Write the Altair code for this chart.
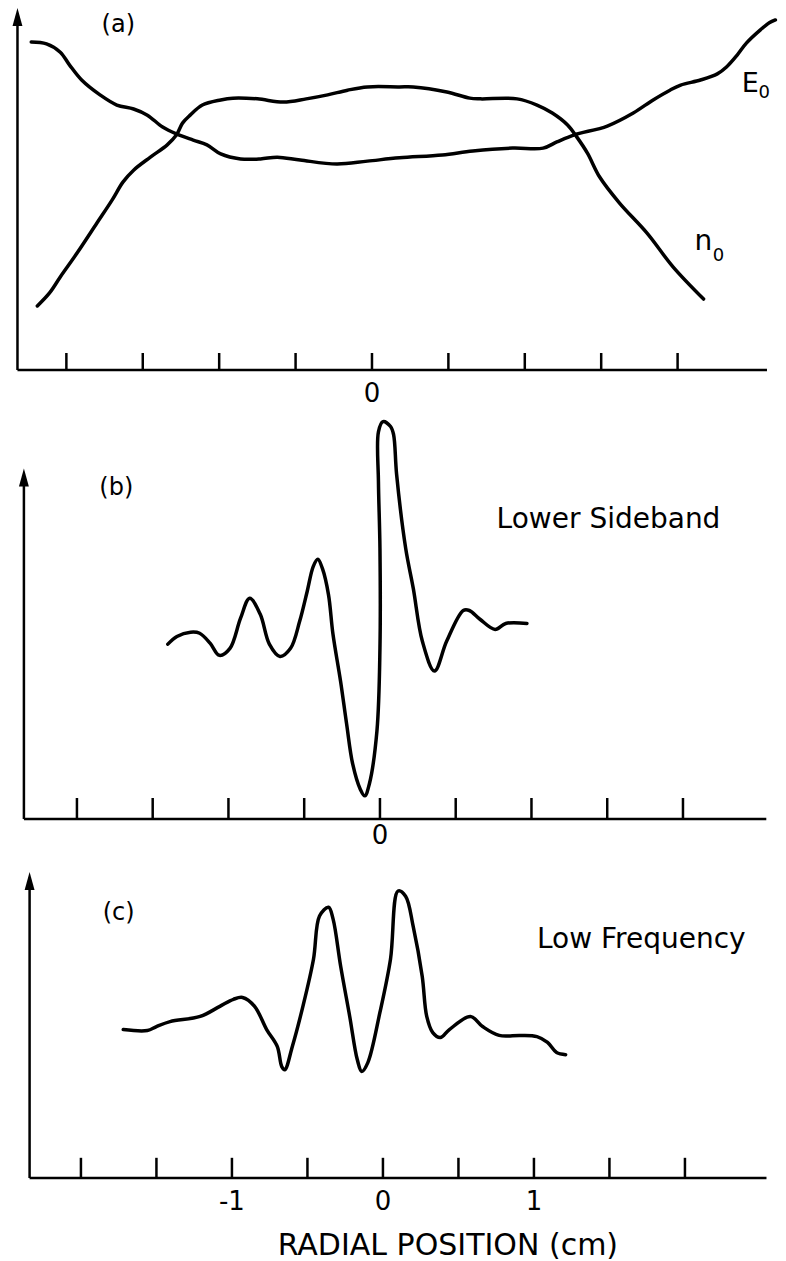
import altair as alt
import pandas as pd

# ---------------- data (x in cm, y in relative units) ----------------
# Panel (a): density n0 and field E0
A_N0_X = [-2.19, -2.11, -2.04, -1.93, -1.80, -1.70, -1.63, -1.56, -1.45, -1.34, -1.28, -1.24, -1.19,
          -1.11, -0.99, -0.91, -0.75, -0.58, -0.43, -0.29, -0.16, -0.03, 0.18, 0.27, 0.49, 0.64,
          0.71, 0.95, 1.08, 1.18, 1.28, 1.34, 1.41, 1.49, 1.62, 1.80, 1.97, 2.17]
A_N0_Y = [1.77, 2.13, 2.57, 3.23, 4.06, 4.70, 5.19, 5.52, 5.88, 6.22, 6.49, 6.82, 7.04,
          7.32, 7.46, 7.51, 7.49, 7.40, 7.49, 7.60, 7.73, 7.82, 7.82, 7.82, 7.68, 7.51,
          7.49, 7.49, 7.32, 7.10, 6.77, 6.44, 5.99, 5.33, 4.61, 3.78, 2.85, 1.96]
A_E0_X = [-2.23, -2.13, -2.04, -1.98, -1.90, -1.78, -1.67, -1.56, -1.47, -1.37, -1.28, -1.17, -1.08,
          -0.99, -0.86, -0.73, -0.62, -0.47, -0.23, -0.03, 0.18, 0.46, 0.66, 0.92, 1.12, 1.21,
          1.32, 1.54, 1.71, 1.84, 1.95, 2.02, 2.15, 2.26, 2.32, 2.39, 2.45, 2.54, 2.60, 2.64]
A_E0_Y = [9.06, 9.01, 8.78, 8.43, 8.01, 7.60, 7.32, 7.21, 7.04, 6.71, 6.52, 6.35, 6.22,
          5.97, 5.83, 5.83, 5.88, 5.80, 5.69, 5.77, 5.86, 5.94, 6.05, 6.13, 6.13, 6.30,
          6.49, 6.74, 7.10, 7.46, 7.73, 7.87, 8.01, 8.18, 8.37, 8.70, 9.03, 9.39, 9.59, 9.67]

# Panel (b): lower sideband
B_X = [-1.40, -1.34, -1.25, -1.19, -1.12, -1.06, -0.99, -0.92, -0.86, -0.79, -0.73, -0.66, -0.59,
       -0.53, -0.48, -0.44, -0.41, -0.38, -0.34, -0.31, -0.26, -0.22, -0.18, -0.13, -0.10, -0.07,
       -0.02, 0.00, 0.00, -0.01, -0.01, 0.02, 0.07, 0.09, 0.11, 0.17, 0.22, 0.28, 0.36, 0.44,
       0.55, 0.59, 0.66, 0.76, 0.83, 0.97]
B_Y = [4.99, 5.21, 5.33, 5.30, 5.01, 4.67, 4.87, 5.73, 6.30, 5.84, 4.99, 4.64, 4.87,
       5.64, 6.50, 7.21, 7.41, 7.15, 6.41, 5.27, 3.93, 2.71, 1.57, 0.85, 0.66, 1.00,
       2.51, 4.87, 7.72, 9.63, 11.05, 11.34, 11.20, 10.97, 9.83, 7.72, 6.58, 5.07, 4.22, 5.07,
       5.95, 5.95, 5.70, 5.41, 5.58, 5.58]

# Panel (c): low frequency
C_X = [-1.72, -1.56, -1.50, -1.41, -1.21, -1.08, -0.99, -0.93, -0.85, -0.77, -0.70, -0.67, -0.65,
       -0.60, -0.53, -0.46, -0.42, -0.36, -0.33, -0.28, -0.22, -0.17, -0.14, -0.10, -0.02, 0.05,
       0.10, 0.15, 0.20, 0.26, 0.29, 0.33, 0.38, 0.44, 0.58, 0.66, 0.77, 0.91, 1.02, 1.09,
       1.15, 1.21]
C_Y = [4.85, 4.82, 4.95, 5.11, 5.28, 5.61, 5.84, 5.90, 5.61, 4.85, 4.30, 3.64, 3.54,
       4.30, 5.61, 7.15, 8.56, 8.85, 8.46, 6.92, 5.28, 3.87, 3.48, 3.77, 5.41, 7.15,
       9.38, 9.21, 8.23, 6.59, 5.28, 4.75, 4.59, 4.85, 5.28, 4.95, 4.66, 4.66, 4.62, 4.43,
       4.10, 4.03]

TICKS = [-2.0, -1.5, -1.0, -0.5, 0.0, 0.5, 1.0, 1.5, 2.0]
LABELS_A = [0]
LABELS_B = [0]
LABELS_C = [-1, 0, 1]

FONT = "DejaVu Sans"
W = 768
ARROW = "M0,0L0.55,2L-0.55,2Z"


def series_df(xs, ys, name):
    return pd.DataFrame({"x": xs, "y": ys, "series": name, "order": list(range(len(xs)))})


def one():
    return pd.DataFrame({"k": [0]})


def panel(df, xdom, ydom, height, ax_x, x_end, tick_h, arrow_y, label_vals, label_dy, texts):
    xs = alt.Scale(domain=xdom, nice=False, zero=False)
    ys = alt.Scale(domain=ydom, nice=False, zero=False)
    lines = alt.Chart(df).mark_line(
        color="black", strokeWidth=3.5, strokeJoin="round", strokeCap="round",
        interpolate="catmull-rom"
    ).encode(
        x=alt.X("x:Q", scale=xs, axis=None),
        y=alt.Y("y:Q", scale=ys, axis=None),
        detail="series:N",
        order="order:Q",
    )
    ticks = alt.Chart(pd.DataFrame({"t": TICKS})).mark_rule(color="black", strokeWidth=2.5).encode(
        x=alt.X("t:Q", scale=xs, axis=None),
        y=alt.YDatum(0, scale=ys, axis=None),
        y2=alt.Y2Datum(tick_h),
    )
    lab_df = pd.DataFrame({"v": label_vals, "lab": [str(v) for v in label_vals]})
    labels = alt.Chart(lab_df).mark_text(
        font=FONT, fontSize=26, baseline="top", align="center", dy=label_dy, color="black"
    ).encode(
        x=alt.X("v:Q", scale=xs, axis=None),
        y=alt.YDatum(0, scale=ys, axis=None),
        text="lab:N",
    )
    xline = alt.Chart(one()).mark_rule(color="black", strokeWidth=2.5).encode(
        x=alt.XDatum(ax_x, scale=xs, axis=None),
        x2=alt.X2Datum(x_end),
        y=alt.YDatum(0, scale=ys, axis=None),
    )
    yline = alt.Chart(one()).mark_rule(color="black", strokeWidth=2.5).encode(
        x=alt.XDatum(ax_x, scale=xs, axis=None),
        y=alt.YDatum(0, scale=ys, axis=None),
        y2=alt.Y2Datum(arrow_y - 0.3),
    )
    arrow = alt.Chart(one()).mark_point(
        shape=ARROW, filled=True, size=324, color="black", opacity=1, strokeWidth=0
    ).encode(
        x=alt.XDatum(ax_x, scale=xs, axis=None),
        y=alt.YDatum(arrow_y, scale=ys, axis=None),
    )
    layers = [lines, ticks, labels, xline, yline, arrow]
    for (txt, tx, ty, size, align, base) in texts:
        layers.append(
            alt.Chart(one()).mark_text(
                text=txt, font=FONT, fontSize=size, align=align, baseline=base, color="black"
            ).encode(
                x=alt.XDatum(tx, scale=xs, axis=None),
                y=alt.YDatum(ty, scale=ys, axis=None),
            )
        )
    return alt.layer(*layers).properties(width=W, height=height)


df_a = pd.concat([series_df(A_N0_X, A_N0_Y, "n0"), series_df(A_E0_X, A_E0_Y, "E0")])
df_b = series_df(B_X, B_Y, "lower sideband")
df_c = series_df(C_X, C_Y, "low frequency")

pa = panel(df_a, [-2.382, 2.644], [0, 10], 362, -2.32, 2.585, 0.47, 10, LABELS_A, 11,
           [("(a)", -1.66, 9.34, 24, "center", "alphabetic"),
            ("E", 2.42, 7.68, 27, "left", "alphabetic"),
            ("0", 2.53, 7.51, 18, "left", "alphabetic"),
            ("n", 2.11, 3.31, 28, "left", "alphabetic"),
            ("0", 2.23, 3.01, 18, "left", "alphabetic")])
pb = panel(df_b, [-2.455, 2.614], [0, 11.3], 396, -2.35, 2.55, 0.6, 10, LABELS_B, 4,
           [("(b)", -1.74, 9.25, 24, "center", "alphabetic"),
            ("Lower Sideband", 0.77, 8.30, 28, "left", "alphabetic")])
pc = panel(df_c, [-2.483, 2.603], [0, 10], 306, -2.34, 2.54, 0.66, 10, LABELS_C, 11,
           [("(c)", -1.75, 8.43, 24, "center", "alphabetic"),
            ("Low Frequency", 1.02, 7.52, 28, "left", "alphabetic"),
            ("RADIAL POSITION (cm)", 0.43, -2.52, 30, "center", "alphabetic")])

chart = alt.vconcat(pa, pb, pc, spacing=53, bounds="flush").properties(
    padding=0, background="white"
).configure_view(stroke=None)

chart.save("out.html", embed_options={"renderer": "svg", "actions": False})
